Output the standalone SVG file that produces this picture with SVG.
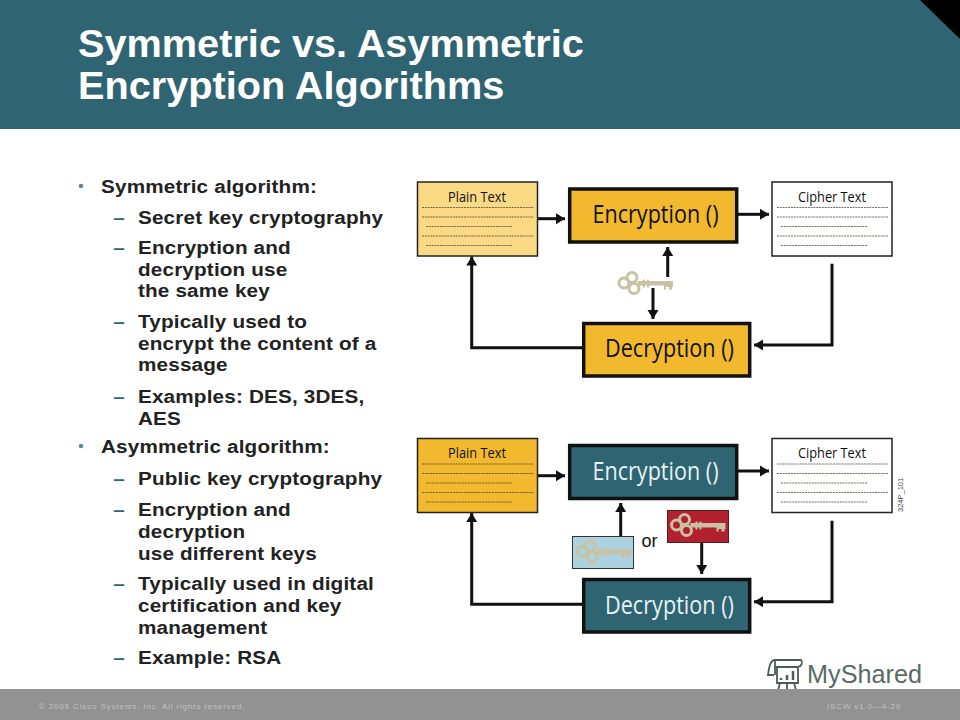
<svg xmlns="http://www.w3.org/2000/svg" width="960" height="720" viewBox="0 0 960 720">
<style>
text{font-family:"Liberation Sans",Arial,sans-serif}
.title{font-size:39.7px;font-weight:bold;fill:#fff}
.b,.s{font-size:19px;font-weight:bold;fill:#222;letter-spacing:.15px}
.d{font-size:19px;font-weight:bold;fill:#2f6472}
.box{stroke:#111;stroke-width:3.5}
.doc{stroke:#222;stroke-width:1.5}
.big{font-family:"Open Sans","Noto Sans",sans-serif;font-size:25px}
.small{font-family:"Open Sans","Noto Sans",sans-serif;font-size:15px;fill:#111}
.sq{fill:none;stroke:#443;stroke-width:1;stroke-dasharray:2 .8;stroke-opacity:.75}
.c{fill:none;stroke:#111;stroke-width:3;marker-end:url(#a)}
.foot{font-size:8px;fill:#c2c2c2;letter-spacing:.85px}
</style>
<defs>
<marker id="a" markerUnits="userSpaceOnUse" markerWidth="12" markerHeight="12" refX="9" refY="6" orient="auto"><path d="M0 0.5L9 6L0 11.5z" fill="#111"/></marker>
<g id="lines">
<path class="sq" d="M5 25.500H117M5 35H117M9 44.500H95M5 54H117M9 63.500H95"/>
</g>
<g id="key">
<g fill="none" stroke="#c8c1a4" stroke-width="3"><circle cx="13" cy="5" r="5"/><circle cx="5" cy="10.500" r="5"/><circle cx="15" cy="16" r="5"/></g>
<path d="M19 8.500H54V14.500H53V17H50V14.500H47V17H45V13H19z" fill="#c8c1a4"/>
<path d="M24 7H26V15H24zM28 7H30V15H28z" fill="#c8c1a4"/>
</g>
</defs>
<rect width="960" height="720" fill="#fff"/>
<g id="header"><rect width="960" height="129" fill="#2f6472"/><path d="M920 0H960V39z" fill="#000"/>
<text class="title" x="78" y="57">Symmetric vs. Asymmetric</text>
<text class="title" x="78" y="99">Encryption Algorithms</text></g>
<g id="bullets">
<g fill="#5f8894"><circle cx="81" cy="186" r="2.300"/><circle cx="81" cy="446" r="2.300"/></g>
<g transform="scale(1.09 1)">
<text class="b" x="92.660" y="193">Symmetric algorithm:</text>
<text class="d" x="104" y="224">–</text><text class="s" x="126.600" y="224">Secret key cryptography</text>
<text class="d" x="104" y="254">–</text><text class="s" x="126.600" y="254">Encryption and</text>
<text class="s" x="126.600" y="276">decryption use</text><text class="s" x="126.600" y="297">the same key</text>
<text class="d" x="104" y="328">–</text><text class="s" x="126.600" y="328">Typically used to</text>
<text class="s" x="126.600" y="350">encrypt the content of a</text><text class="s" x="126.600" y="371">message</text>
<text class="d" x="104" y="403">–</text><text class="s" x="126.600" y="403">Examples: DES, 3DES,</text>
<text class="s" x="126.600" y="425">AES</text>
<text class="b" x="92.660" y="453">Asymmetric algorithm:</text>
<text class="d" x="104" y="485">–</text><text class="s" x="126.600" y="485">Public key cryptography</text>
<text class="d" x="104" y="516">–</text><text class="s" x="126.600" y="516">Encryption and</text>
<text class="s" x="126.600" y="538">decryption</text><text class="s" x="126.600" y="560">use different keys</text>
<text class="d" x="104" y="590">–</text><text class="s" x="126.600" y="590">Typically used in digital</text>
<text class="s" x="126.600" y="612">certification and key</text><text class="s" x="126.600" y="634">management</text>
<text class="d" x="104" y="664">–</text><text class="s" x="126.600" y="664">Example: RSA</text>
</g>
</g>
<g id="connectors">
<path class="c" d="M538 218.700H565"/>
<path class="c" d="M738 214.300H769"/>
<path class="c" d="M832 263.700V345H754"/>
<path class="c" d="M582 347.700H471.700V256.500"/>
<path class="c" d="M667.700 277V247"/>
<path class="c" d="M653 288V319"/>
<path class="c" d="M538 475.700H565"/>
<path class="c" d="M738 471H769"/>
<path class="c" d="M832 520.700V601.700H754"/>
<path class="c" d="M582 604.300H471.700V513"/>
<path class="c" d="M620.700 536V503"/>
<path class="c" d="M701.700 543V574"/>
</g>
<g id="plain1"><rect class="doc" x="417.500" y="182" width="120" height="74" fill="#fbd985"/><text class="small" x="448" y="201.700" textLength="58" lengthAdjust="spacingAndGlyphs">Plain Text</text><use href="#lines" x="417" y="182"/></g>
<g id="enc1"><rect class="box" x="569.700" y="189" width="167" height="53" fill="#f2b92e"/><text class="big" x="592.500" y="223" fill="#111" textLength="126" lengthAdjust="spacingAndGlyphs">Encryption ()</text></g>
<g id="cipher1"><rect class="doc" x="772" y="182" width="120" height="74" fill="#fff"/><text class="small" x="798" y="201.700" textLength="68" lengthAdjust="spacingAndGlyphs">Cipher Text</text><use href="#lines" x="772" y="182"/></g>
<g id="dec1"><rect class="box" x="583.700" y="323.500" width="166" height="52.500" fill="#f2b92e"/><text class="big" x="605" y="357" fill="#111" textLength="129" lengthAdjust="spacingAndGlyphs">Decryption ()</text></g>
<g id="key1"><use href="#key" x="619" y="272.500"/></g>
<g id="plain2"><rect class="doc" x="417.500" y="438.500" width="120" height="74" fill="#f2b92e"/><text class="small" x="448" y="458" textLength="58" lengthAdjust="spacingAndGlyphs">Plain Text</text><use href="#lines" x="417" y="438.500"/></g>
<g id="enc2"><rect class="box" x="569.700" y="445.500" width="167" height="53" fill="#2f6472"/><text class="big" x="592.500" y="480" fill="#e6f2f4" textLength="126" lengthAdjust="spacingAndGlyphs">Encryption ()</text></g>
<g id="cipher2"><rect class="doc" x="772" y="438.500" width="120" height="74" fill="#fff"/><text class="small" x="798" y="458" textLength="68" lengthAdjust="spacingAndGlyphs">Cipher Text</text><use href="#lines" x="772" y="438.500"/></g>
<g id="dec2"><rect class="box" x="583.700" y="579.500" width="166" height="52.500" fill="#2f6472"/><text class="big" x="605" y="613.700" fill="#e6f2f4" textLength="129" lengthAdjust="spacingAndGlyphs">Decryption ()</text></g>
<g id="keyPublic"><rect x="572.500" y="536.500" width="61" height="32" fill="#acd2df" stroke="#333" stroke-width="1"/><use href="#key" x="577" y="541"/></g>
<g id="keyPrivate"><rect x="667.500" y="510.500" width="61" height="32" fill="#b3202e" stroke="#5a1a20" stroke-width="1"/><use href="#key" x="671.500" y="514.500"/></g>
<text x="641.500" y="547" font-family="Open Sans,sans-serif" font-size="18" fill="#111">or</text>
<text transform="translate(903 512) rotate(-90)" font-size="7.500" fill="#444">324P_101</text>
<g id="watermark" fill="none" stroke="#4c5d57" stroke-width="1.800">
<path d="M775 660C770 660 769 668 768 675H774M775 660H801C803 662 802 666 798 667H775V660M775 660V675M777 667H798V683H777zM780 683L778 690M787 683V690M794 683L796 690"/>
<path d="M781 680V678M787 680V675M793 680V671" stroke-width="2.500"/>
<text x="807" y="682.700" font-size="25" fill="#5a6b66" stroke="none" font-family="Open Sans,sans-serif" textLength="115" lengthAdjust="spacingAndGlyphs">MyShared</text>
</g>
<g id="footer"><rect y="689" width="960" height="31" fill="#929292"/>
<text class="foot" x="39" y="709">© 2006 Cisco Systems, Inc. All rights reserved.</text>
<text class="foot" x="827" y="709">ISCW v1.0—4-29</text></g>
</svg>
